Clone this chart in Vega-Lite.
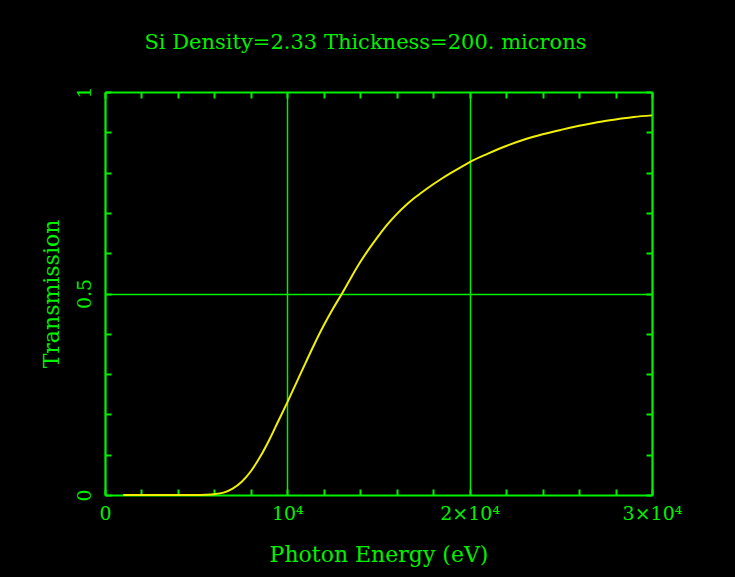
{
  "$schema": "https://vega.github.io/schema/vega-lite/v6.json",
  "autosize": {"type": "none"},
  "width": 547,
  "height": 403,
  "padding": {"left": 105, "top": 92, "right": 83, "bottom": 82},
  "background": "#000000",
  "title": {
    "text": "Si Density=2.33 Thickness=200. microns",
    "font": "DejaVu Serif",
    "fontSize": 21,
    "fontWeight": "normal",
    "color": "#00f000",
    "anchor": "middle",
    "baseline": "alphabetic",
    "offset": 16,
    "dx": -13
  },
  "config": {
    "view": {"stroke": null},
    "axis": {
      "domainColor": "#00f000",
      "domainWidth": 2,
      "tickColor": "#00f000",
      "tickWidth": 2,
      "tickSize": -6,
      "gridColor": "#00f000",
      "gridWidth": 1.5,
      "labelColor": "#00f000",
      "labelFont": "DejaVu Serif",
      "labelFontSize": 19,
      "labelFlush": false,
      "labelOverlap": false,
      "labelBound": false,
      "titleColor": "#00f000",
      "titleFont": "DejaVu Serif",
      "titleFontSize": 22,
      "titleFontWeight": "normal"
    }
  },
  "data": {
    "values": [
      {"energy": 1000, "transmission": 0},
      {"energy": 2000, "transmission": 0},
      {"energy": 3000, "transmission": 0},
      {"energy": 4000, "transmission": 0},
      {"energy": 5000, "transmission": 0},
      {"energy": 5500, "transmission": 0.0005},
      {"energy": 6000, "transmission": 0.002},
      {"energy": 6500, "transmission": 0.006},
      {"energy": 7000, "transmission": 0.016},
      {"energy": 7500, "transmission": 0.033},
      {"energy": 8000, "transmission": 0.059},
      {"energy": 8500, "transmission": 0.094},
      {"energy": 9000, "transmission": 0.136},
      {"energy": 9500, "transmission": 0.183},
      {"energy": 10000, "transmission": 0.23},
      {"energy": 10500, "transmission": 0.279},
      {"energy": 11000, "transmission": 0.328},
      {"energy": 11500, "transmission": 0.376},
      {"energy": 12000, "transmission": 0.421},
      {"energy": 12500, "transmission": 0.462},
      {"energy": 13000, "transmission": 0.5},
      {"energy": 13500, "transmission": 0.54},
      {"energy": 14000, "transmission": 0.578},
      {"energy": 14500, "transmission": 0.612},
      {"energy": 15000, "transmission": 0.643},
      {"energy": 15500, "transmission": 0.672},
      {"energy": 16000, "transmission": 0.697},
      {"energy": 16500, "transmission": 0.719},
      {"energy": 17000, "transmission": 0.738},
      {"energy": 17500, "transmission": 0.755},
      {"energy": 18000, "transmission": 0.771},
      {"energy": 18500, "transmission": 0.786},
      {"energy": 19000, "transmission": 0.8},
      {"energy": 19500, "transmission": 0.813},
      {"energy": 20000, "transmission": 0.826},
      {"energy": 21000, "transmission": 0.847},
      {"energy": 22000, "transmission": 0.866},
      {"energy": 23000, "transmission": 0.882},
      {"energy": 24000, "transmission": 0.895},
      {"energy": 25000, "transmission": 0.906},
      {"energy": 26000, "transmission": 0.916},
      {"energy": 27000, "transmission": 0.925},
      {"energy": 28000, "transmission": 0.932},
      {"energy": 29000, "transmission": 0.938},
      {"energy": 30000, "transmission": 0.942}
    ]
  },
  "layer": [
    {
      "mark": {"type": "line", "opacity": 0},
      "encoding": {
        "x": {
          "field": "energy",
          "type": "quantitative",
          "scale": {"domain": [0, 30000], "nice": false, "zero": false},
          "axis": {
            "orient": "top",
            "values": [0, 2000, 4000, 6000, 8000, 10000, 12000, 14000, 16000, 18000, 20000, 22000, 24000, 26000, 28000, 30000],
            "labels": false,
            "grid": false,
            "title": null
          }
        },
        "y": {
          "field": "transmission",
          "type": "quantitative",
          "scale": {"domain": [0, 1], "nice": false},
          "axis": {
            "orient": "right",
            "values": [0, 0.1, 0.2, 0.3, 0.4, 0.5, 0.6, 0.7, 0.8, 0.9, 1],
            "labels": false,
            "grid": false,
            "title": null
          }
        }
      }
    },
    {
      "mark": {"type": "line", "color": "#f0f000", "strokeWidth": 2, "interpolate": "monotone"},
      "encoding": {
        "x": {
          "field": "energy",
          "type": "quantitative",
          "axis": {
            "orient": "bottom",
            "values": [0, 2000, 4000, 6000, 8000, 10000, 12000, 14000, 16000, 18000, 20000, 22000, 24000, 26000, 28000, 30000],
            "grid": true,
            "gridOpacity": {"condition": {"test": "datum.value % 10000 === 0", "value": 1}, "value": 0},
            "labelExpr": "datum.value === 0 ? '0' : datum.value === 10000 ? '10⁴' : datum.value === 20000 ? '2×10⁴' : datum.value === 30000 ? '3×10⁴' : ''",
            "labelPadding": 15,
            "title": "Photon Energy (eV)",
            "titlePadding": 21
          }
        },
        "y": {
          "field": "transmission",
          "type": "quantitative",
          "axis": {
            "orient": "left",
            "values": [0, 0.1, 0.2, 0.3, 0.4, 0.5, 0.6, 0.7, 0.8, 0.9, 1],
            "grid": true,
            "gridOpacity": {"condition": {"test": "datum.value === 0.5", "value": 1}, "value": 0},
            "labelExpr": "datum.value === 0 ? '0' : datum.value === 0.5 ? '0.5' : datum.value === 1 ? '1' : ''",
            "labelAngle": -90,
            "labelPadding": 17,
            "title": "Transmission",
            "titlePadding": 12
          }
        }
      }
    }
  ],
  "resolve": {"axis": {"x": "independent", "y": "independent"}}
}
